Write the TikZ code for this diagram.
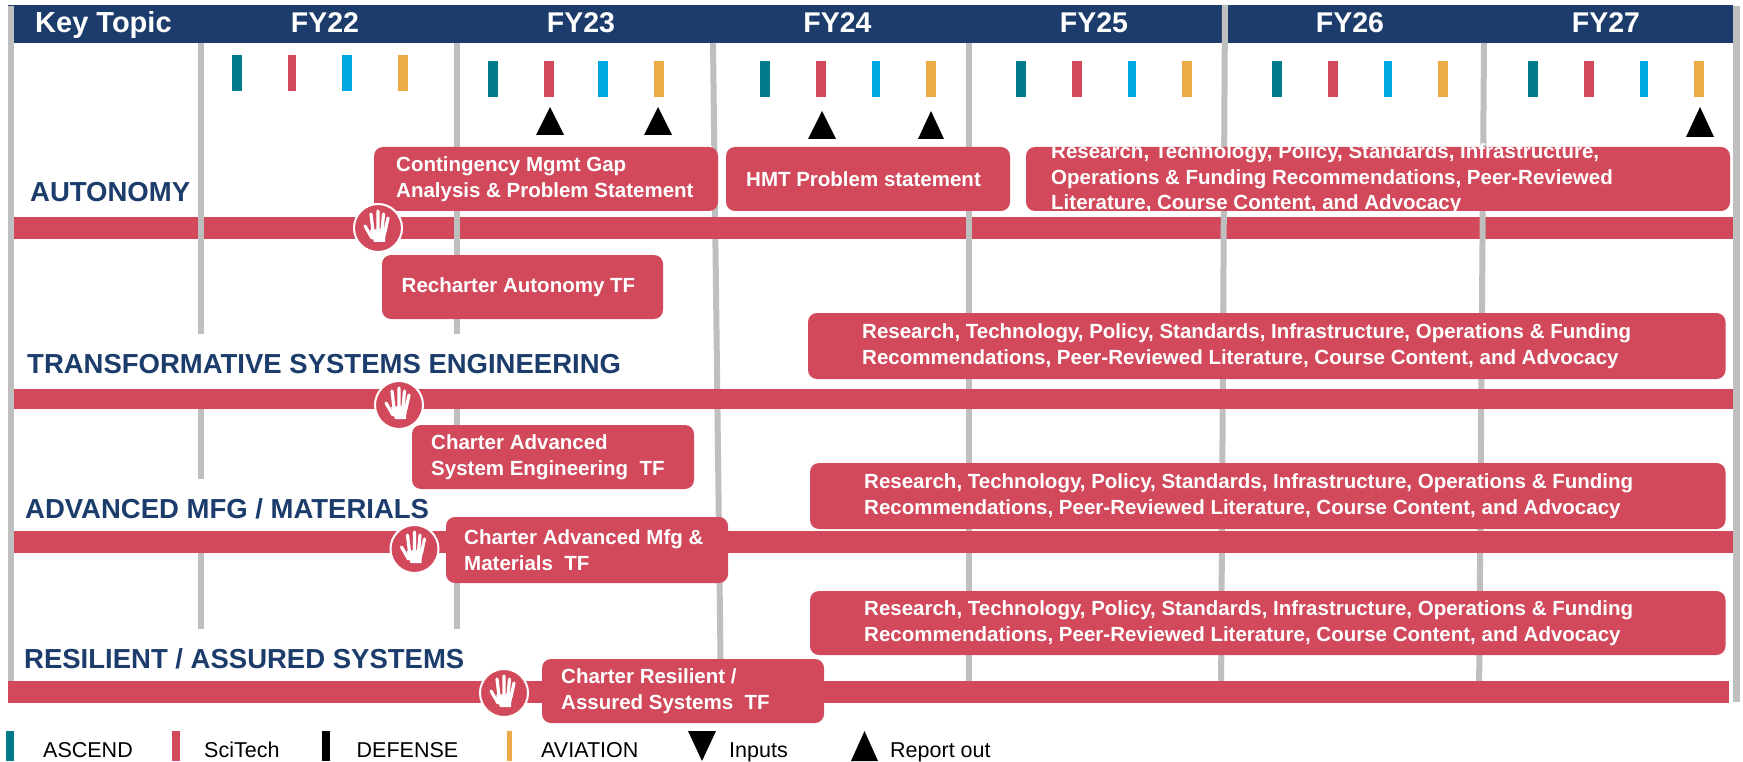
\documentclass[tikz,border=0pt]{standalone}
\usepackage{fontspec}
\setmainfont{Liberation Sans}
\definecolor{navy}{HTML}{1C3C6C}
\definecolor{rd}{HTML}{D1495B}
\definecolor{teal2}{HTML}{007A8A}
\definecolor{sky}{HTML}{00A8E1}
\definecolor{amber}{HTML}{EDAB47}
\definecolor{gry}{HTML}{BFBFBF}
\tikzset{
  vline/.style={draw=gry,line width=6pt},
  rbox/.style={fill=rd,rounded corners=9pt,inner sep=0pt},
  boxtxt/.style={text=white,inner sep=0pt,align=left,anchor=west,font=\fontsize{20.5}{25.7}\selectfont\bfseries},
  fytxt/.style={text=white,inner sep=0pt,anchor=base,font=\fontsize{28.5}{30}\selectfont\bfseries},
  topic/.style={text=navy,inner sep=0pt,anchor=base west,font=\fontsize{27.5}{30}\selectfont\bfseries},
  legtxt/.style={text=black,inner sep=0pt,anchor=base west,font=\fontsize{21.5}{24}\selectfont},
  handc/.style={circle,fill=rd,draw=white,line width=2pt,minimum size=48pt,inner sep=0pt},
  handicon/.pic={
    \fill[white] (-8,2) -- (9,0) -- (7,11) -- (7,14) -- (-4,14) -- (-5,11) -- cycle;
    \draw[white,line width=3.2pt,line cap=round]
      (-6,10) -- (-13,-2)
      (-5,3) -- (-7,-14)
      (0,3) -- (0,-17)
      (4,3) -- (5.5,-14)
      (7,4) -- (10,-10);
  },
}
\newcommand{\tboxx}[7]{%
  \node[rbox,minimum width={#4-#2},minimum height={#5-#3}] (b#1) at ({(#2+#4)/2},{(#3+#5)/2}) {};
  \node[boxtxt] (t#1) at (#6,{(#3+#5)/2}) {#7};
}
\newcommand{\tick}[4]{\fill[#4] (#1,#2) rectangle (#3,#2+36);}
\newcommand{\tup}[4]{\fill (#1,#4) -- (#2,#4) -- ({(#1+#2)/2},#3) -- cycle;}
\begin{document}
\begin{tikzpicture}[x=1pt,y=-1pt]
\useasboundingbox (0,0) rectangle (1743,762);
\fill[white] (0,0) rectangle (1743,762);
% header
\fill[navy] (8,5) rectangle (1733,43);
% outer lines
\fill[gry] (8,6) rectangle (14,703);
\fill[gry] (1733,6) rectangle (1740,702);
% line under first bar
\draw[vline] (713,43) -- (721,700);
% first bar
\fill[rd] (14,217) rectangle (1733,239);
% verticals
\draw[vline] (200.5,43) -- (200.5,334);
\draw[vline] (201,409) -- (201,479);
\draw[vline] (201,553) -- (201,629);
\draw[vline] (457,43) -- (457,334);
\draw[vline] (456.5,409) -- (456.5,479);
\draw[vline] (456.5,553) -- (456.5,629);
\draw[vline] (969,43) -- (969,700);
\draw[vline] (1225,5) -- (1221,700);
\draw[vline] (1484,43) -- (1479,700);
% other bars
\fill[rd] (14,389) rectangle (1733,409);
\fill[rd] (14,531) rectangle (1733,553);
\fill[rd] (8,681) rectangle (1729,703);
% header text
\node[text=white,inner sep=0pt,anchor=base west,font=\fontsize{29}{30}\selectfont\bfseries] (kt) at (35,33) {Key Topic};
\node[fytxt] (fy22) at (325,33) {FY22};
\node[fytxt] (fy23) at (581,33) {FY23};
\node[fytxt] (fy24) at (837.5,33) {FY24};
\node[fytxt] (fy25) at (1094,33) {FY25};
\node[fytxt] (fy26) at (1350,33) {FY26};
\node[fytxt] (fy27) at (1606,33) {FY27};
% ticks
\tick{232}{55}{242}{teal2}\tick{288}{55}{296}{rd}\tick{342}{55}{352}{sky}\tick{398}{55}{408}{amber}
\tick{488}{61}{498}{teal2}\tick{544}{61}{554}{rd}\tick{598}{61}{608}{sky}\tick{654}{61}{664}{amber}
\tick{760}{61}{770}{teal2}\tick{816}{61}{826}{rd}\tick{871.5}{61}{880}{sky}\tick{926}{61}{936}{amber}
\tick{1016}{61}{1026}{teal2}\tick{1072}{61}{1082}{rd}\tick{1128}{61}{1136}{sky}\tick{1182}{61}{1192}{amber}
\tick{1272}{61}{1282}{teal2}\tick{1328}{61}{1338}{rd}\tick{1384}{61}{1392}{sky}\tick{1438}{61}{1448}{amber}
\tick{1528}{61}{1538}{teal2}\tick{1584}{61}{1594}{rd}\tick{1640}{61}{1648}{sky}\tick{1694}{61}{1704}{amber}
% triangles
\tup{536}{564}{107}{135}
\tup{644}{672}{107}{135}
\tup{808}{836}{111}{139}
\tup{918}{944}{111}{139}
\tup{1686}{1714}{107}{137}
% topics
\node[topic] (l1) at (30,202) {AUTONOMY};
\node[topic] (l2) at (27,373) {TRANSFORMATIVE SYSTEMS ENGINEERING};
\node[topic] (l3) at (25,518) {ADVANCED MFG / MATERIALS};
\node[topic] (l4) at (24,668) {RESILIENT / ASSURED SYSTEMS};
% boxes
\tboxx{a}{374}{147}{718}{211}{396}{Contingency Mgmt Gap\\Analysis \& Problem Statement}
\tboxx{b}{726}{147}{1010}{211}{746}{HMT Problem statement}
\tboxx{c}{1026}{147}{1730}{211}{1051}{Research, Technology, Policy, Standards, Infrastructure,\\Operations \& Funding Recommendations, Peer-Reviewed\\Literature, Course Content, and Advocacy}
\tboxx{d}{382}{255}{663}{319}{401.5}{Recharter Autonomy TF}
\tboxx{e}{808}{313}{1725.5}{379}{862}{Research, Technology, Policy, Standards, Infrastructure, Operations \& Funding\\Recommendations, Peer-Reviewed Literature, Course Content, and Advocacy}
\tboxx{f}{412}{425}{694}{489}{431}{Charter Advanced\\System Engineering\ \ TF}
\tboxx{g}{810}{463}{1725.5}{529}{864}{Research, Technology, Policy, Standards, Infrastructure, Operations \& Funding\\Recommendations, Peer-Reviewed Literature, Course Content, and Advocacy}
\tboxx{h}{446}{517}{728}{583}{464}{Charter Advanced Mfg \&\\Materials\ \ TF}
\tboxx{i}{810}{591}{1725.5}{655}{864}{Research, Technology, Policy, Standards, Infrastructure, Operations \& Funding\\Recommendations, Peer-Reviewed Literature, Course Content, and Advocacy}
\tboxx{j}{542}{659}{824}{723}{561}{Charter Resilient /\\Assured Systems\ \ TF}
% hands
\node[handc] (h1) at (378,228) {}; \pic at (h1) {handicon};
\node[handc] (h2) at (399,405) {}; \pic at (h2) {handicon};
\node[handc] (h3) at (414.5,549) {}; \pic at (h3) {handicon};
\node[handc] (h4) at (504,693) {}; \pic at (h4) {handicon};
% legend
\fill[teal2] (6,731) rectangle (14,761);
\fill[rd] (172,731) rectangle (180,761);
\fill[black] (322,731) rectangle (330,761);
\fill[amber] (507,731) rectangle (512,761);
\fill (688,731) -- (716,731) -- (702,761) -- cycle;
\fill (851,761) -- (878,761) -- (864.5,731) -- cycle;
\node[legtxt] (g1) at (43,757) {ASCEND};
\node[legtxt] (g2) at (204,757) {SciTech};
\node[legtxt] (g3) at (356.5,757) {DEFENSE};
\node[legtxt] (g4) at (541,757) {AVIATION};
\node[legtxt] (g5) at (729,757) {Inputs};
\node[legtxt] (g6) at (890,757) {Report out};
\end{tikzpicture}
\end{document}
